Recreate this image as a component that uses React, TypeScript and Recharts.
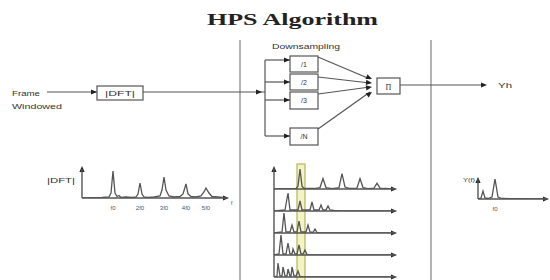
import React from "react";
import { LineChart, Line, XAxis, YAxis, ReferenceLine } from "recharts";

type Pt = [number, number];

// |DFT| of the windowed frame: [bin offset, magnitude]
const dftSpectrum: Pt[] = [
  [0, 0], [20, 0.5], [27, 1], [29, 5], [31, 27], [33, 5], [35, 1.5], [37, 2.5], [39, 0.5],
  [44, 1], [50, 0.5], [54, 1], [56, 4], [58, 15], [60, 4], [62, 1], [66, 0.5], [72, 1],
  [78, 2], [80, 8], [82, 21], [84, 8], [87, 2], [92, 1], [98, 1.5], [101, 4], [104, 14],
  [106, 4], [109, 1.5], [114, 1], [119, 2], [122, 6], [124, 10], [127, 5], [130, 1.5],
  [136, 1], [145, 0],
];
const dftTicks = [31, 58, 82, 104, 124];
const dftTickLabels = ["f0", "2f0", "3f0", "4f0", "5f0"];

// downsampled copies of the spectrum (/1 ... /5)
const down1: Pt[] = [
  [0, 0], [22, 0.5], [24, 3], [26, 21], [28, 3], [30, 0.5], [40, 0.5], [46, 1.5], [49, 11],
  [52, 1.5], [58, 0.5], [65, 1.5], [68, 16], [71, 2], [76, 0.5], [83, 1], [86, 11], [89, 1.5],
  [94, 0.5], [100, 1], [103, 6], [106, 1], [110, 0.5], [121, 0],
];
const down2: Pt[] = [
  [0, 0], [11, 1], [14, 18], [16, 1], [24, 1], [26, 10], [28, 1], [36, 1], [38, 9], [40, 1],
  [45, 1], [47, 6], [49, 1], [52, 1], [54, 5], [56, 1], [60, 0.5], [66, 0], [121, 0],
];
const down3: Pt[] = [
  [0, 0], [8, 1], [10, 20], [12, 1], [16, 1], [18, 8], [20, 1], [23, 1], [25, 12], [27, 1],
  [32, 1], [34, 8], [36, 1], [39, 0.5], [41, 4], [43, 0.5], [46, 0], [121, 0],
];
const down4: Pt[] = [
  [0, 0], [5, 1], [7, 20], [9, 1], [12, 1], [14, 12], [16, 1], [18, 1], [19, 6], [21, 1],
  [23, 1], [25, 10], [27, 1], [29, 1], [31, 5], [33, 0.5], [36, 0], [121, 0],
];
const down5: Pt[] = [
  [0, 0], [3, 1], [4, 14], [6, 1], [8, 1], [9, 10], [11, 1], [13, 1], [14, 8], [16, 1],
  [17, 1], [18, 10], [20, 1], [22, 1], [24, 6], [26, 0.5], [29, 0], [121, 0],
];
const downRows = [down1, down2, down3, down4, down5];

// product spectrum
const hpsSpectrum: Pt[] = [
  [0, 0], [3, 1], [5, 8], [7, 1], [10, 0.5], [14, 2], [17, 20], [20, 2], [24, 0.5], [40, 0.3], [69, 0],
];
const hpsTicks = [17];
const hpsTickLabels = ["f0"];

const blockLabels = ["/1", "/2", "/3", "/N"];

const INK = "#555";

function Spectrum({ pts, left, top, w, h, yMax, ticks, labels, yAxis = true }: any) {
  const data = pts.map(([bin, mag]: Pt) => ({ bin, mag }));
  const m = 2;
  const axisH = ticks ? 14 : 0;
  return (
    <div style={{ position: "absolute", left: left - m, top: top - m }}>
      <LineChart width={w + 2 * m} height={h + 2 * m + axisH} data={data} margin={{ top: m, right: m, bottom: m, left: m }}>
        <XAxis
          type="number"
          dataKey="bin"
          domain={[0, w]}
          hide={!ticks}
          ticks={ticks}
          interval={0}
          height={axisH}
          axisLine={false}
          tickLine={false}
          tick={{ fontSize: 6, fill: "#555", fontFamily: "Liberation Sans" }}
          tickFormatter={(v: number) => (ticks ? labels[ticks.indexOf(v)] : "")}
          allowDataOverflow
        />
        <YAxis hide domain={[0, yMax]} allowDataOverflow />
        <ReferenceLine y={0} stroke={INK} strokeWidth={1.4} />
        {yAxis && <ReferenceLine x={0} stroke={INK} strokeWidth={1.4} />}
        <Line type="linear" dataKey="mag" stroke={INK} strokeWidth={1.3} dot={false} isAnimationActive={false} />
      </LineChart>
    </div>
  );
}

function Arrow({ x, y, dir = 0 }: { x: number; y: number; dir?: number }) {
  // small filled arrowhead whose tip sits at (x, y), pointing at angle dir (radians)
  const c = Math.cos(dir), s = Math.sin(dir);
  const p = (dx: number, dy: number) => `${x + dx * c - dy * s},${y + dx * s + dy * c}`;
  return <polygon points={`${p(0, 0)} ${p(-6, -2.6)} ${p(-6, 2.6)}`} fill="#222" />;
}

const rowBase = [189, 211, 233, 255, 277];
const branchY = [60, 82, 100, 136];
const boxY: [number, number][] = [[56, 72], [74, 90], [92, 109], [128, 145]];
const converge: [number, number, number][] = [[57, 370, 79], [77, 370, 83], [94, 370, 87], [129, 370, 92]];

export default function App() {
  const txt = { fontFamily: "Liberation Sans", fill: "#333" } as const;
  return (
    <div style={{ position: "relative", width: 550, height: 280, background: "#fff", overflow: "hidden" }}>
      <style>{"body{margin:0}"}</style>
      <svg width={550} height={280} style={{ position: "absolute", left: 0, top: 0 }} strokeWidth={1.2}>
        <text x={207} y={24.5} fontFamily="Liberation Serif" fontWeight="bold" fontSize={17} fill="#222" textLength={171} lengthAdjust="spacingAndGlyphs">
          HPS Algorithm
        </text>

        <line x1={240} y1={40} x2={240} y2={280} stroke="#808080" />
        <line x1={431} y1={40} x2={431} y2={280} stroke="#808080" />

        <text x={12} y={96} fontSize={8} {...txt} textLength={28} lengthAdjust="spacingAndGlyphs">Frame</text>
        <text x={12} y={109} fontSize={8} {...txt} textLength={50} lengthAdjust="spacingAndGlyphs">Windowed</text>
        <line x1={47} y1={92} x2={97} y2={92} stroke={INK} />
        <Arrow x={97} y={92} />
        <rect x={97} y={86} width={46} height={14} fill="#fff" stroke={INK} />
        <text x={120} y={95.5} fontSize={7} {...txt} textAnchor="middle" textLength={30} lengthAdjust="spacingAndGlyphs">|DFT|</text>
        <line x1={143} y1={92} x2={265} y2={92} stroke={INK} />
        <Arrow x={262} y={92} />

        <text x={272} y={49} fontSize={8} {...txt} textLength={68} lengthAdjust="spacingAndGlyphs">Downsampling</text>
        <line x1={265} y1={60} x2={265} y2={136} stroke={INK} />
        {branchY.map((y, i) => (
          <g key={i}>
            <line x1={265} y1={y} x2={290} y2={y} stroke={INK} />
            <Arrow x={290} y={y} />
          </g>
        ))}
        {boxY.map(([y0, y1], i) => (
          <g key={i}>
            <rect x={290} y={y0} width={28} height={y1 - y0} fill="#fff" stroke={INK} />
            <text x={304} y={(y0 + y1) / 2 + 2.5} fontSize={7} {...txt} textAnchor="middle">{blockLabels[i]}</text>
          </g>
        ))}
        {converge.map(([y0, x1, y1], i) => (
          <g key={i}>
            <line x1={318} y1={y0} x2={x1} y2={y1} stroke={INK} />
            <Arrow x={x1 + 2} y={y1} dir={Math.atan2(y1 - y0, x1 - 318)} />
          </g>
        ))}
        <rect x={377} y={78} width={23} height={16} fill="#fff" stroke={INK} />
        <text x={388.5} y={89.5} fontSize={8} fontFamily="Liberation Serif" fill="#333" textAnchor="middle">Π</text>
        <line x1={400} y1={85} x2={485} y2={85} stroke={INK} />
        <Arrow x={487} y={85} />
        <text x={498} y={88} fontSize={8} {...txt} textLength={14} lengthAdjust="spacingAndGlyphs">Yh</text>

        {/* |DFT| spectrum decorations */}
        <text x={47} y={183} fontSize={6.5} {...txt} textLength={28} lengthAdjust="spacingAndGlyphs">|DFT|</text>
        <Arrow x={82} y={166} dir={-Math.PI / 2} />
        <Arrow x={229} y={198} />
        <text x={231} y={205} fontSize={5} {...txt}>f</text>

        {/* downsampled stack */}
        <rect x={297} y={164} width={8} height={120} fill="#f3f3c6" stroke="#b5b55a" />
        <Arrow x={274} y={166} dir={-Math.PI / 2} />
        {rowBase.map((y, i) => (
          <Arrow key={i} x={397} y={y} />
        ))}

        {/* product spectrum decorations */}
        <text x={463} y={182} fontSize={6} {...txt} textLength={12} lengthAdjust="spacingAndGlyphs">Y(f)</text>
        <Arrow x={478} y={177} dir={-Math.PI / 2} />
        <Arrow x={549} y={199} />
      </svg>

      <Spectrum pts={dftSpectrum} left={82} top={169} w={145} h={29} yMax={29} ticks={dftTicks} labels={dftTickLabels} />
      {downRows.map((pts, i) => (
        <Spectrum key={i} pts={pts} left={274} top={rowBase[i] - (i === 0 ? 21 : 22)} w={121} h={i === 0 ? 21 : 22} yMax={22} />
      ))}
      <Spectrum pts={hpsSpectrum} left={478} top={179} w={69} h={20} yMax={20} ticks={hpsTicks} labels={hpsTickLabels} />
    </div>
  );
}
